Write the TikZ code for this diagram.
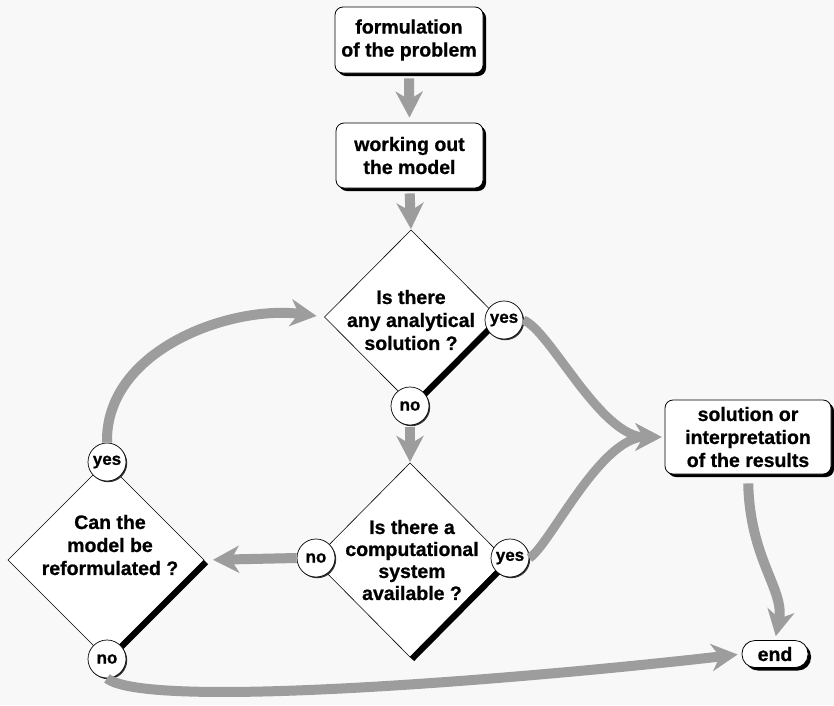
\documentclass[tikz,border=0pt]{standalone}
\usepackage{fontspec}
\setmainfont{Liberation Sans}[BoldFeatures={FakeBold=0.8}]
\usetikzlibrary{shapes.geometric,arrows.meta,calc,shadows}
\definecolor{bg}{HTML}{F8F8F8}
\definecolor{arrgray}{HTML}{9D9D9D}
\tikzset{
  txt/.style={font=\bfseries\fontsize{19.5}{23}\selectfont, align=center, inner sep=0pt},
  box/.style={draw=black, line width=0.8pt, fill=white, rounded corners=8pt, inner sep=0pt, txt,
    drop shadow={shadow xshift=3pt, shadow yshift=-3pt, fill=black, opacity=1}},
  dia/.style={diamond, draw=black, line width=0.6pt, fill=white, inner sep=0pt, outer sep=0pt},
  edgeshadow/.style={line width=6pt, line cap=butt},
  ans/.style={circle, draw=black, line width=0.7pt, fill=white, minimum size=38pt, inner sep=0pt,
    font=\bfseries\fontsize{17}{17}\selectfont,
    drop shadow={shadow xshift=1.2pt, shadow yshift=-1.2pt, fill=black!80, opacity=1}},
  arr/.style={draw=arrgray, line width=10pt, -{Stealth[length=26pt, width=27pt, inset=8pt]}}
}
\begin{document}
\begin{tikzpicture}[x=1pt,y=-1pt]
\useasboundingbox (0,0) rectangle (834,705);
\fill[bg] (0,0) rectangle (834,705);

% boxes
\node[box, minimum width=148pt, minimum height=66pt] (b1) at (409,40) {formulation\\of the problem};
\node[box, minimum width=147pt, minimum height=65pt] (b2) at (409.5,155.5) {working out\\the model};
\node[box, minimum width=166pt, minimum height=74pt] (sol) at (748,437) {solution or\\interpretation\\of the results};
\node[box, rounded corners=13pt, minimum width=66pt, minimum height=27pt] (end) at (775,654) {end};

% diamonds
\node[dia, minimum width=173pt, minimum height=174pt] (d1) at (411,317) {};
\node[dia, minimum width=192pt, minimum height=194pt] (d2) at (410,560) {};
\node[dia, minimum width=196pt, minimum height=196pt] (d3) at (106,560) {};

% thick shadow edges
\draw[edgeshadow] ($(d1.east)+(2,2)$) -- ($(d1.south)+(2,2)$);
\draw[edgeshadow] ($(d2.east)+(2,2)$) -- ($(d2.south)+(2,2)$);
\draw[edgeshadow] ($(d3.east)+(2,2)$) -- ($(d3.south)+(2,2)$);

% diamond texts
\node[txt] (t1) at (411,320) {Is there\\any analytical\\solution ?};
\node[txt, font=\bfseries\fontsize{19.5}{22}\selectfont] (t2) at (412,560) {Is there a\\computational\\system\\available ?};
\node[txt] (t3) at (110,545) {Can the\\model be\\reformulated ?};

% answer circles
\node[ans] (yes1) at (504,320) {yes};
\node[ans] (no1) at (410,406) {no};
\node[ans] (no2) at (316,558) {no};
\node[ans] (yes2) at (510,558) {yes};
\node[ans] (yes3) at (107,462) {yes};
\node[ans] (no3) at (107,659) {no};

% connectors
\draw[arr, shorten <=5pt, shorten >=5pt] (b1.south) -- (b2.north);
\draw[arr, shorten <=5pt, shorten >=1pt] (b2.south) -- (d1.north);
\draw[arr, shorten <=2pt, shorten >=1pt] (no1.south) -- (d2.north);
\draw[arr, line width=9pt, shorten >=3pt] (yes1.east) .. controls (550,330) and (600,437) .. (sol.west);
\draw[arr, line width=9pt, shorten >=3pt] (yes2.east) .. controls (550,545) and (600,437) .. (sol.west);
\draw[arr, shorten >=9pt] (no2.west) -- (d3.east);
\draw[arr, shorten >=8pt] (yes3.north) .. controls (105,350) and (230,305) .. (d1.west);
\draw[arr, shorten <=9pt, shorten >=4pt] (sol.south) .. controls (750,560) and (785,590) .. (end.north);
\draw[arr, shorten >=4pt] (no3.south) .. controls (150,712) and (560,675) .. (end.west);
\end{tikzpicture}
\end{document}
